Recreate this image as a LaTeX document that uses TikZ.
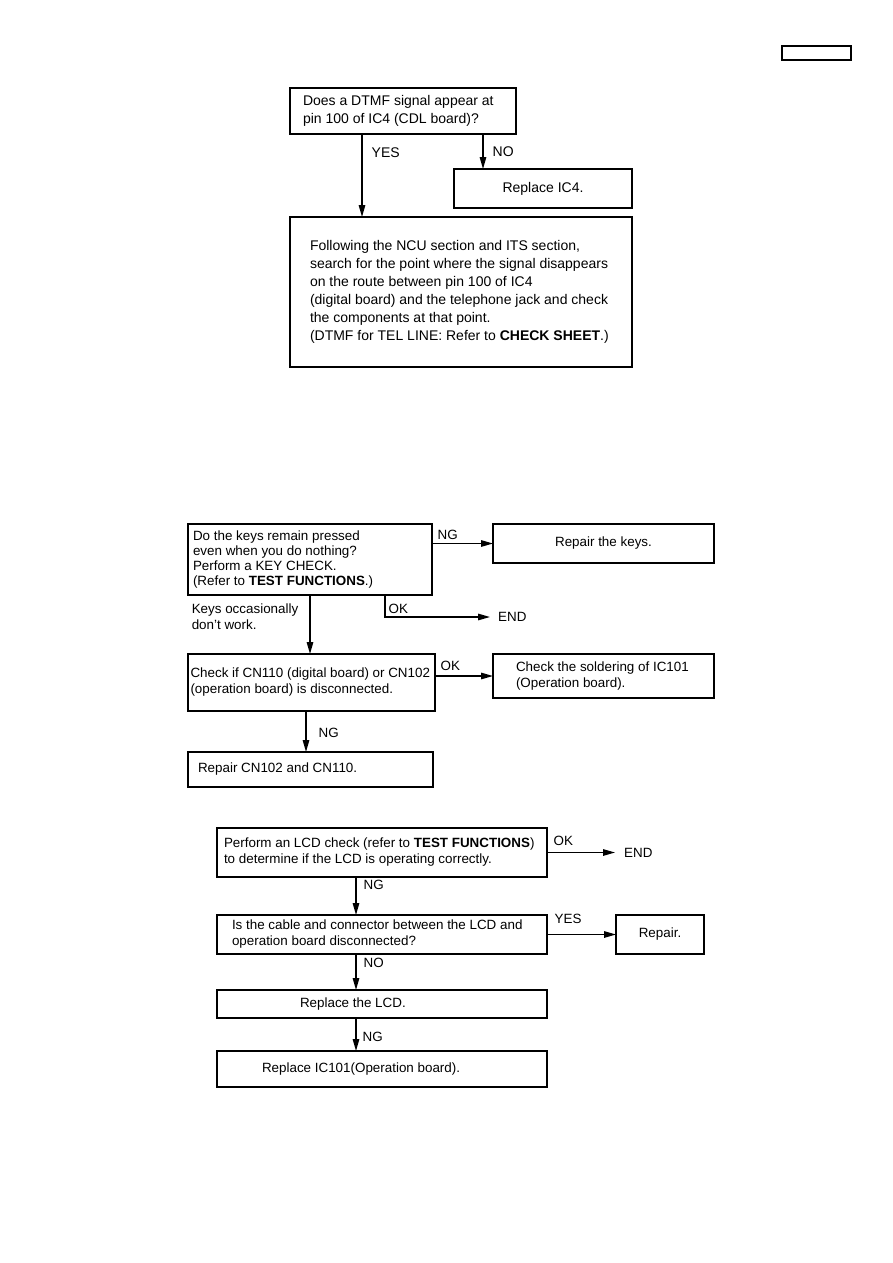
\documentclass[tikz,border=0pt]{standalone}
\usepackage{fontspec}
\setmainfont{Liberation Sans}
\usepackage{tikz}
\usetikzlibrary{arrows.meta, positioning}

\begin{document}
\begin{tikzpicture}[
  x=1pt, y=-1pt,
  box/.style={
    draw, line width=1.5pt, anchor=north west,
    align=flush left, inner ysep=0pt, outer sep=0pt,
    font=\fontsize{13.4}{16}\selectfont,
  },
  topbox/.style={box, font=\fontsize{14}{18}\selectfont},
  lbl/.style={inner sep=0pt, font=\fontsize{13.4}{16}\selectfont},
  toplbl/.style={lbl, font=\fontsize{14}{18}\selectfont},
  arr/.style={line width=1.4pt, -{Triangle[length=12pt, width=6.5pt]}},
]
\useasboundingbox (0,0) rectangle (893,1263);
\fill[white] (0,0) rectangle (893,1263);

\node[draw, line width=1.5pt, minimum width=69pt, minimum height=14pt, inner sep=0pt] (hdr) at (816.5,53) {};

\node[topbox, minimum height=46pt, text width=200pt, inner xsep=13pt] (q) at (290,88)
  {Does a DTMF signal appear at\\pin 100 of IC4 (CDL board)?};
\node[topbox, minimum width=178pt, minimum height=39pt] (rep4) at (454,169) {Replace IC4.};
\node[topbox, minimum height=150pt, text width=302pt, inner xsep=20pt] (big)
  [below=83pt of q.south west, anchor=north west]
  {Following the NCU section and ITS section,\\
   search for the point where the signal disappears\\
   on the route between pin 100 of IC4\\
   (digital board) and the telephone jack and check\\
   the components at that point.\\
   (DTMF for TEL LINE: Refer to \textbf{CHECK SHEET}.)};
\draw[arr] ([xshift=72pt]q.south west) -- ([xshift=72pt]big.north west)
  node[toplbl, pos=0.22, right=9pt] {YES};
\draw[arr] ([xshift=-33pt]q.south east) -- ([xshift=29pt]rep4.north west)
  node[toplbl, pos=0.51, right=9pt] {NO};

\node[box, minimum height=71pt, text width=234pt, inner xsep=5pt,
  font=\fontsize{13.4}{15}\selectfont] (keys) at (188,524)
  {Do the keys remain pressed\\even when you do nothing?\\Perform a KEY CHECK.\\(Refer to \textbf{TEST FUNCTIONS}.)};
\node[box, minimum width=221pt, minimum height=39pt] (rkeys)
  [right=61pt of keys.north east, anchor=north west] {Repair the keys.};
\node[lbl, anchor=west] (end1) at (498,617) {END};
\node[box, minimum height=57pt, text width=242pt, inner xsep=2.5pt] (chk)
  [below=59pt of keys.south west, anchor=north west]
  {Check if CN110 (digital board) or CN102\\(operation board) is disconnected.};
\node[box, minimum height=44pt, text width=175pt, inner xsep=23pt] (sold)
  [right=58pt of chk.north east, anchor=north west]
  {Check the soldering of IC101\\(Operation board).};
\node[box, minimum height=35pt, text width=225pt, inner xsep=10pt] (rcn)
  [below=41pt of chk.south west, anchor=north west] {Repair CN102 and CN110.};
\draw[arr] (rkeys.west -| keys.east) -- (rkeys.west)
  node[lbl, pos=0, above right=3pt and 5pt] {NG};
\draw[arr] ([xshift=-47pt]keys.south east) |- ([xshift=-8pt]end1.west)
  node[lbl, pos=0.5, above right=3pt and 3pt] {OK};
\draw[arr] ([xshift=122pt]keys.south west) -- ([xshift=122pt]chk.north west)
  node[lbl, pos=0.36, left=11pt, align=left] {Keys occasionally\\don't work.};
\draw[arr] (sold.west -| chk.east) -- (sold.west)
  node[lbl, pos=0, above right=5pt and 5pt] {OK};
\draw[arr] ([xshift=118pt]chk.south west) -- ([xshift=118pt]rcn.north west)
  node[lbl, pos=0.54, right=12pt] {NG};

\node[box, minimum height=49pt, text width=316pt, inner xsep=7pt] (lcd) at (217,828)
  {Perform an LCD check (refer to \textbf{TEST FUNCTIONS})\\to determine if the LCD is operating correctly.};
\node[lbl] (end2) [right=77pt of lcd] {END};
\node[box, minimum height=39pt, text width=300pt, inner xsep=15pt] (cab)
  [below=38pt of lcd.south west, anchor=north west]
  {Is the cable and connector between the LCD and\\operation board disconnected?};
\node[box, minimum width=88pt, minimum height=39pt] (rep)
  [right=69pt of cab.north east, anchor=north west] {Repair.};
\node[box, minimum height=28pt, text width=164pt, inner xsep=83pt] (lcdr)
  [below=36pt of cab.south west, anchor=north west] {Replace the LCD.};
\node[box, minimum height=36pt, text width=240pt, inner xsep=45pt] (ic)
  [below=33pt of lcdr.south west, anchor=north west] {Replace IC101(Operation board).};
\draw[arr] (lcd.east) -- ([xshift=-9pt]end2.west)
  node[lbl, pos=0, above right=6pt and 6pt] {OK};
\draw[arr] ([xshift=139pt]lcd.south west) -- ([xshift=139pt]cab.north west)
  node[lbl, pos=0.22, right=7pt] {NG};
\draw[arr] (cab.east) -- (rep.west)
  node[lbl, pos=0, above right=10pt and 7pt] {YES};
\draw[arr] ([xshift=139pt]cab.south west) -- ([xshift=139pt]lcdr.north west)
  node[lbl, pos=0.25, right=7pt] {NO};
\draw[arr] ([xshift=139pt]lcdr.south west) -- ([xshift=139pt]ic.north west)
  node[lbl, pos=0.58, right=6pt] {NG};
\end{tikzpicture}
\end{document}
